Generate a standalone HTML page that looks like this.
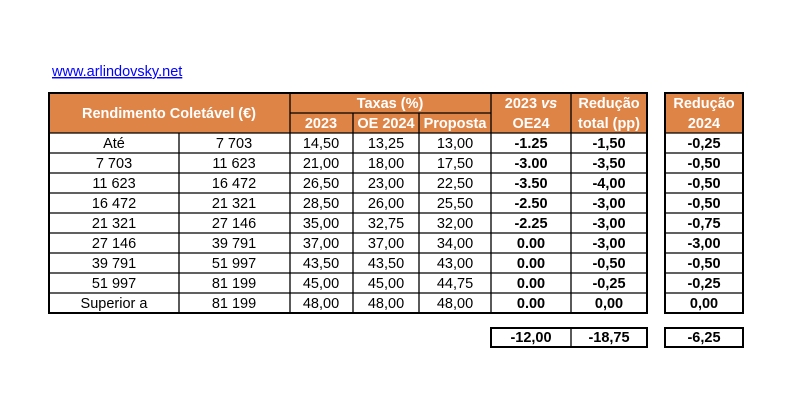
<!DOCTYPE html>
<html><head><meta charset="utf-8"><style>
html,body{margin:0;padding:0;background:#fff;width:803px;height:401px;overflow:hidden}
svg{display:block}
text{font-family:"Liberation Sans",Arial,sans-serif;font-size:14.5px;fill:#000}
.h{fill:#fff;font-weight:bold}
.b{font-weight:bold}
</style></head><body>
<svg width="803" height="401" viewBox="0 0 803 401">
<text x="52" y="76" style="fill:#0000ff;font-size:14.5px;text-decoration:underline">www.arlindovsky.net</text>
<rect x="49" y="93" width="598" height="40" fill="#DF8447"/>
<rect x="665" y="93" width="78" height="40" fill="#DF8447"/>
<g stroke="#000" stroke-width="1.3" fill="none">
<line x1="290" y1="113" x2="491" y2="113"/>
<line x1="49" y1="133" x2="647" y2="133"/>
<line x1="49" y1="153" x2="647" y2="153"/>
<line x1="49" y1="173" x2="647" y2="173"/>
<line x1="49" y1="193" x2="647" y2="193"/>
<line x1="49" y1="213" x2="647" y2="213"/>
<line x1="49" y1="233" x2="647" y2="233"/>
<line x1="49" y1="253" x2="647" y2="253"/>
<line x1="49" y1="273" x2="647" y2="273"/>
<line x1="49" y1="293" x2="647" y2="293"/>
<line x1="179" y1="133" x2="179" y2="313"/>
<line x1="290" y1="93" x2="290" y2="313"/>
<line x1="353" y1="113" x2="353" y2="313"/>
<line x1="419" y1="113" x2="419" y2="313"/>
<line x1="491" y1="93" x2="491" y2="313"/>
<line x1="571" y1="93" x2="571" y2="313"/>
<rect x="49" y="93" width="598" height="220" stroke-width="2"/>
<line x1="665" y1="133" x2="743" y2="133"/>
<line x1="665" y1="153" x2="743" y2="153"/>
<line x1="665" y1="173" x2="743" y2="173"/>
<line x1="665" y1="193" x2="743" y2="193"/>
<line x1="665" y1="213" x2="743" y2="213"/>
<line x1="665" y1="233" x2="743" y2="233"/>
<line x1="665" y1="253" x2="743" y2="253"/>
<line x1="665" y1="273" x2="743" y2="273"/>
<line x1="665" y1="293" x2="743" y2="293"/>
<rect x="665" y="93" width="78" height="220" stroke-width="2"/>
<rect x="491" y="328" width="156" height="19" stroke-width="2"/>
<line x1="571" y1="328" x2="571" y2="347"/>
<rect x="665" y="328" width="78" height="19" stroke-width="2"/>
</g>
<g text-anchor="middle">
<text class="h" x="169" y="118">Rendimento Coletável (€)</text>
<text class="h" x="390" y="108">Taxas (%)</text>
<text class="h" x="321" y="128">2023</text>
<text class="h" x="386" y="128">OE 2024</text>
<text class="h" x="455" y="128">Proposta</text>
<text class="h" x="531" y="108">2023 <tspan font-style="italic">vs</tspan></text>
<text class="h" x="531" y="128">OE24</text>
<text class="h" x="609" y="108">Redução</text>
<text class="h" x="609" y="128">total (pp)</text>
<text class="h" x="704" y="108">Redução</text>
<text class="h" x="704" y="128">2024</text>
</g>
<g text-anchor="middle">
<text x="114" y="148">Até</text><text x="234" y="148">7 703</text><text x="321" y="148">14,50</text><text x="386" y="148">13,25</text><text x="455" y="148">13,00</text><text class="b" x="531" y="148">-1.25</text><text class="b" x="609" y="148">-1,50</text><text class="b" x="704" y="148">-0,25</text>
<text x="114" y="168">7 703</text><text x="234" y="168">11 623</text><text x="321" y="168">21,00</text><text x="386" y="168">18,00</text><text x="455" y="168">17,50</text><text class="b" x="531" y="168">-3.00</text><text class="b" x="609" y="168">-3,50</text><text class="b" x="704" y="168">-0,50</text>
<text x="114" y="188">11 623</text><text x="234" y="188">16 472</text><text x="321" y="188">26,50</text><text x="386" y="188">23,00</text><text x="455" y="188">22,50</text><text class="b" x="531" y="188">-3.50</text><text class="b" x="609" y="188">-4,00</text><text class="b" x="704" y="188">-0,50</text>
<text x="114" y="208">16 472</text><text x="234" y="208">21 321</text><text x="321" y="208">28,50</text><text x="386" y="208">26,00</text><text x="455" y="208">25,50</text><text class="b" x="531" y="208">-2.50</text><text class="b" x="609" y="208">-3,00</text><text class="b" x="704" y="208">-0,50</text>
<text x="114" y="228">21 321</text><text x="234" y="228">27 146</text><text x="321" y="228">35,00</text><text x="386" y="228">32,75</text><text x="455" y="228">32,00</text><text class="b" x="531" y="228">-2.25</text><text class="b" x="609" y="228">-3,00</text><text class="b" x="704" y="228">-0,75</text>
<text x="114" y="248">27 146</text><text x="234" y="248">39 791</text><text x="321" y="248">37,00</text><text x="386" y="248">37,00</text><text x="455" y="248">34,00</text><text class="b" x="531" y="248">0.00</text><text class="b" x="609" y="248">-3,00</text><text class="b" x="704" y="248">-3,00</text>
<text x="114" y="268">39 791</text><text x="234" y="268">51 997</text><text x="321" y="268">43,50</text><text x="386" y="268">43,50</text><text x="455" y="268">43,00</text><text class="b" x="531" y="268">0.00</text><text class="b" x="609" y="268">-0,50</text><text class="b" x="704" y="268">-0,50</text>
<text x="114" y="288">51 997</text><text x="234" y="288">81 199</text><text x="321" y="288">45,00</text><text x="386" y="288">45,00</text><text x="455" y="288">44,75</text><text class="b" x="531" y="288">0.00</text><text class="b" x="609" y="288">-0,25</text><text class="b" x="704" y="288">-0,25</text>
<text x="114" y="308">Superior a</text><text x="234" y="308">81 199</text><text x="321" y="308">48,00</text><text x="386" y="308">48,00</text><text x="455" y="308">48,00</text><text class="b" x="531" y="308">0.00</text><text class="b" x="609" y="308">0,00</text><text class="b" x="704" y="308">0,00</text>
<text class="b" x="531" y="342">-12,00</text><text class="b" x="609" y="342">-18,75</text><text class="b" x="704" y="342">-6,25</text>
</g>
</svg>
</body></html>
